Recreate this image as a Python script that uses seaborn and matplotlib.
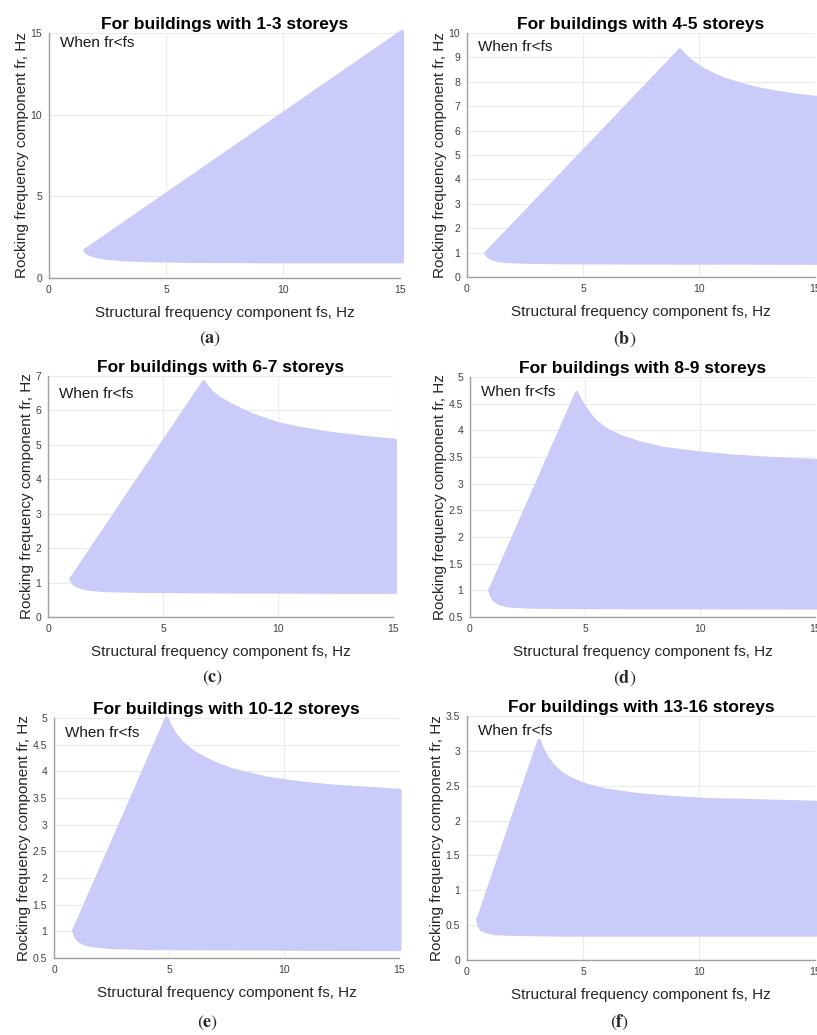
import numpy as np
import matplotlib.pyplot as plt
import seaborn as sns

# figure size in pixels (saved at dpi=100)
W, H = 817, 1035

titles = ["For buildings with 1-3 storeys", "For buildings with 4-5 storeys",
          "For buildings with 6-7 storeys", "For buildings with 8-9 storeys",
          "For buildings with 10-12 storeys", "For buildings with 13-16 storeys"]
letters = ["a", "b", "c", "d", "e", "f"]

# upper and lower edges of the fr<fs region
a_up_x = [1.55, 15.1]
a_up_y = [1.7, 15.1]
a_lo_x = [1.55, 1.62, 1.8, 2.1, 2.6, 3.2, 4.0, 6.0, 10.0, 15.1]
a_lo_y = [1.7, 1.55, 1.42, 1.3, 1.2, 1.13, 1.08, 1.03, 1.0, 1.0]

b_up_x = [0.83, 9.18, 9.35, 9.55, 9.8, 10.2, 10.7, 11.2, 11.9, 12.6, 13.35, 14.1, 15.1]
b_up_y = [0.98, 9.3, 9.12, 8.93, 8.75, 8.5, 8.26, 8.07, 7.87, 7.7, 7.57, 7.46, 7.35]
b_lo_x = [0.83, 0.9, 1.05, 1.3, 1.7, 2.5, 4.0, 8.0, 15.1]
b_lo_y = [0.98, 0.86, 0.76, 0.69, 0.64, 0.61, 0.59, 0.58, 0.57]

c_up_x = [1.01, 6.77, 6.95, 7.17, 7.46, 8.04, 8.91, 10.0, 11.0, 12.4, 13.8, 15.1]
c_up_y = [1.11, 6.83, 6.65, 6.5, 6.35, 6.13, 5.86, 5.61, 5.47, 5.32, 5.21, 5.13]
c_lo_x = [1.01, 1.08, 1.2, 1.45, 1.8, 2.5, 4.0, 8.0, 15.1]
c_lo_y = [1.11, 1.0, 0.93, 0.86, 0.81, 0.77, 0.75, 0.73, 0.72]

d_up_x = [0.87, 4.64, 4.8, 5.0, 5.25, 5.5, 5.9, 6.5, 7.4, 8.4, 9.86, 11.3, 13.14, 15.1]
d_up_y = [1.0, 4.705, 4.56, 4.42, 4.27, 4.15, 4.02, 3.89, 3.76, 3.66, 3.58, 3.52, 3.47, 3.43]
d_lo_x = [0.87, 0.93, 1.05, 1.3, 1.7, 2.5, 4.0, 15.1]
d_lo_y = [1.0, 0.9, 0.82, 0.75, 0.71, 0.69, 0.68, 0.67]

e_up_x = [0.87, 4.9, 5.05, 5.25, 5.6, 6.0, 6.5, 7.1, 7.8, 9.25, 10.7, 12.14, 13.6, 15.04]
e_up_y = [1.02, 5.0, 4.85, 4.7, 4.52, 4.38, 4.25, 4.13, 4.02, 3.87, 3.78, 3.72, 3.68, 3.64]
e_lo_x = [0.87, 0.93, 1.05, 1.3, 1.7, 2.5, 4.0, 15.04]
e_lo_y = [1.02, 0.92, 0.84, 0.77, 0.73, 0.7, 0.68, 0.66]

f_up_x = [0.47, 3.11, 3.25, 3.45, 3.75, 4.1, 4.5, 5.2, 5.93, 7.36, 8.79, 10.21, 11.64, 15.05]
f_up_y = [0.57, 3.15, 3.03, 2.9, 2.77, 2.67, 2.59, 2.5, 2.44, 2.37, 2.33, 2.3, 2.29, 2.26]
f_lo_x = [0.47, 0.52, 0.62, 0.8, 1.2, 2.0, 4.0, 15.05]
f_lo_y = [0.57, 0.49, 0.44, 0.41, 0.38, 0.37, 0.36, 0.36]

# axis limits and y ticks per panel
y_lims = [(0, 15), (0, 10), (0, 7), (0.5, 5), (0.5, 5), (0, 3.5)]
y_steps = [5, 1, 1, 0.5, 0.5, 0.5]
x_ticks = [0, 5, 10, 15]

edges = [(a_up_x, a_up_y, a_lo_x, a_lo_y), (b_up_x, b_up_y, b_lo_x, b_lo_y),
         (c_up_x, c_up_y, c_lo_x, c_lo_y), (d_up_x, d_up_y, d_lo_x, d_lo_y),
         (e_up_x, e_up_y, e_lo_x, e_lo_y), (f_up_x, f_up_y, f_lo_x, f_lo_y)]

# axes boxes in pixels: left, right, top, bottom
boxes = [(49, 400, 33, 278), (467, 815, 33, 277),
         (48, 393, 376, 617), (470, 815, 377, 617),
         (54, 399, 718, 958), (467, 815, 716, 960)]
note_dy = [10, 14, 18, 15, 15, 15]          # "When fr<fs" offset from top, px
letter_pos = [(210, 339), (625, 339), (213, 678), (625, 678), (208, 1023), (620, 1022)]

fill_col = "#CBCBFA"

sns.set_theme(style="whitegrid", rc={"grid.color": "#EBEBEB", "grid.linewidth": 0.8})
plt.rcParams["font.family"] = ["Liberation Sans", "DejaVu Sans"]
plt.rcParams["mathtext.fontset"] = "stix"

fig = plt.figure(figsize=(W / 100, H / 100), dpi=100)

for i in range(6):
    l, r, t, b = boxes[i]
    ax = fig.add_axes([l / W, 1 - b / H, (r - l) / W, (b - t) / H])
    up_x, up_y, lo_x, lo_y = edges[i]
    poly_x = up_x + lo_x[::-1]
    poly_y = up_y + lo_y[::-1]
    ax.fill(poly_x, poly_y, color=fill_col, lw=0, clip_on=False, zorder=2)
    # outline in the same colour gives the rounded marker-like edge
    sns.lineplot(x=poly_x, y=poly_y, sort=False, estimator=None, ax=ax,
                 color=fill_col, lw=2.5, solid_joinstyle="round",
                 solid_capstyle="round", clip_on=False, zorder=2)

    y0, y1 = y_lims[i]
    ax.set_xlim(0, 15)
    ax.set_ylim(y0, y1)
    ax.set_xticks(x_ticks)
    ax.set_yticks(np.arange(y0, y1 + 1e-9, y_steps[i]))
    ax.yaxis.set_major_formatter(plt.FormatStrFormatter("%g"))
    ax.tick_params(direction="in", length=2, width=0.6, pad=5, labelsize=7.5,
                   colors="#999999", labelcolor="#404040")
    for s in ["top", "right"]:
        ax.spines[s].set_visible(False)
    for s in ["left", "bottom"]:
        ax.spines[s].set_color("#A0A0A0")
        ax.spines[s].set_linewidth(1.0)

    ax.set_title(titles[i], fontsize=12.5, fontweight="bold", pad=3, color="black")
    ax.set_xlabel("Structural frequency component fs, Hz", fontsize=11,
                  labelpad=8, color="#262626")
    ax.set_ylabel("Rocking frequency component fr, Hz", fontsize=11,
                  labelpad=1, color="#262626")
    ax.text(11 / (r - l), 1 - note_dy[i] / (b - t), "When fr<fs",
            transform=ax.transAxes, fontsize=11, va="center", ha="left",
            color="#1a1a1a", zorder=5)

    lx, ly = letter_pos[i]
    fig.text(lx / W, 1 - ly / H, r"$(\mathbf{%s})$" % letters[i],
             fontsize=13, ha="center", va="center")

fig.savefig("out.png", dpi=100)
